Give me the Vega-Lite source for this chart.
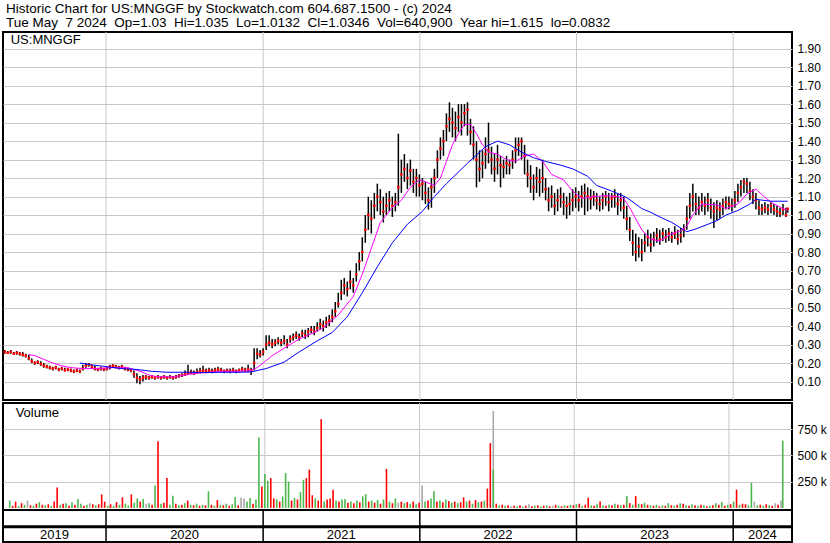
{
"$schema": "https://vega.github.io/schema/vega-lite/v6.json",
"padding": {"left": 0, "top": 2, "right": 0, "bottom": 0},
"background": "white",
"bounds": "flush",
"resolve": {"scale": {"color": "independent", "y": "independent"}},
"title": {"text": ["Historic Chart for US:MNGGF by Stockwatch.com 604.687.1500 - (c) 2024", "Tue May\u00a0\u00a07 2024\u00a0\u00a0Op=1.03\u00a0\u00a0Hi=1.035\u00a0\u00a0Lo=1.0132\u00a0\u00a0Cl=1.0346\u00a0\u00a0Vol=640,900\u00a0\u00a0Year hi=1.615\u00a0\u00a0lo=0.0832"], "anchor": "start", "frame": "group", "fontSize": 13.5, "fontWeight": "normal", "font": "Liberation Sans", "color": "black", "lineHeight": 13.5, "offset": 2, "dx": 3},
"config": {
 "view": {"stroke": "black", "strokeWidth": 2},
 "font": "Liberation Sans",
 "axis": {"labelFont": "Liberation Sans", "labelFontSize": 12, "labelColor": "black", "gridColor": "#c8c8c8", "gridOpacity": 1, "gridWidth": 1, "ticks": false, "domain": false, "labelPadding": 5, "labelOverlap": false, "tickCount": 40, "title": null}
},
"datasets": {
"yrs": [
{"y":"2019","s":"2019-01-01","m":"2019-09-03"},
{"y":"2020","s":"2020-01-01","m":"2020-07-02"},
{"y":"2021","s":"2021-01-01","m":"2021-07-02"},
{"y":"2022","s":"2022-01-01","m":"2022-07-02"},
{"y":"2023","s":"2023-01-01","m":"2023-07-02"},
{"y":"2024","s":"2024-01-01","m":"2024-03-09"}
],
"p": [
{"d":"2019-05-10","c":0.26,"h":0.27,"l":0.25},
{"d":"2019-05-17","c":0.255,"h":0.265,"l":0.25},
{"d":"2019-05-24","c":0.26,"h":0.27,"l":0.25},
{"d":"2019-05-31","c":0.25,"h":0.26,"l":0.245},
{"d":"2019-06-07","c":0.255,"h":0.265,"l":0.245},
{"d":"2019-06-14","c":0.25,"h":0.26,"l":0.24},
{"d":"2019-06-21","c":0.245,"h":0.26,"l":0.235},
{"d":"2019-06-28","c":0.24,"h":0.25,"l":0.23},
{"d":"2019-07-05","c":0.225,"h":0.245,"l":0.215},
{"d":"2019-07-12","c":0.21,"h":0.225,"l":0.2},
{"d":"2019-07-19","c":0.2,"h":0.21,"l":0.19},
{"d":"2019-07-26","c":0.205,"h":0.215,"l":0.195},
{"d":"2019-08-02","c":0.195,"h":0.21,"l":0.185},
{"d":"2019-08-09","c":0.185,"h":0.2,"l":0.175},
{"d":"2019-08-16","c":0.18,"h":0.19,"l":0.17},
{"d":"2019-08-23","c":0.175,"h":0.185,"l":0.165},
{"d":"2019-08-30","c":0.17,"h":0.18,"l":0.16},
{"d":"2019-09-06","c":0.175,"h":0.185,"l":0.165},
{"d":"2019-09-13","c":0.165,"h":0.175,"l":0.155},
{"d":"2019-09-20","c":0.17,"h":0.18,"l":0.16},
{"d":"2019-09-27","c":0.16,"h":0.175,"l":0.155},
{"d":"2019-10-04","c":0.165,"h":0.175,"l":0.155},
{"d":"2019-10-11","c":0.16,"h":0.17,"l":0.15},
{"d":"2019-10-18","c":0.155,"h":0.165,"l":0.145},
{"d":"2019-10-25","c":0.16,"h":0.17,"l":0.15},
{"d":"2019-11-01","c":0.155,"h":0.165,"l":0.145},
{"d":"2019-11-08","c":0.17,"h":0.19,"l":0.16},
{"d":"2019-11-15","c":0.185,"h":0.2,"l":0.175},
{"d":"2019-11-22","c":0.19,"h":0.2,"l":0.18},
{"d":"2019-11-29","c":0.18,"h":0.19,"l":0.17},
{"d":"2019-12-06","c":0.17,"h":0.185,"l":0.16},
{"d":"2019-12-13","c":0.165,"h":0.175,"l":0.155},
{"d":"2019-12-20","c":0.17,"h":0.18,"l":0.16},
{"d":"2019-12-27","c":0.165,"h":0.175,"l":0.155},
{"d":"2020-01-03","c":0.17,"h":0.18,"l":0.16},
{"d":"2020-01-10","c":0.18,"h":0.19,"l":0.165},
{"d":"2020-01-17","c":0.185,"h":0.195,"l":0.175},
{"d":"2020-01-24","c":0.18,"h":0.19,"l":0.17},
{"d":"2020-01-31","c":0.175,"h":0.185,"l":0.165},
{"d":"2020-02-07","c":0.18,"h":0.19,"l":0.17},
{"d":"2020-02-14","c":0.17,"h":0.18,"l":0.16},
{"d":"2020-02-21","c":0.165,"h":0.175,"l":0.155},
{"d":"2020-02-28","c":0.16,"h":0.17,"l":0.15},
{"d":"2020-03-06","c":0.14,"h":0.16,"l":0.12},
{"d":"2020-03-13","c":0.12,"h":0.145,"l":0.09},
{"d":"2020-03-20","c":0.11,"h":0.13,"l":0.085},
{"d":"2020-03-27","c":0.12,"h":0.135,"l":0.1},
{"d":"2020-04-03","c":0.125,"h":0.135,"l":0.11},
{"d":"2020-04-10","c":0.12,"h":0.13,"l":0.11},
{"d":"2020-04-17","c":0.125,"h":0.135,"l":0.115},
{"d":"2020-04-24","c":0.12,"h":0.13,"l":0.11},
{"d":"2020-05-01","c":0.125,"h":0.135,"l":0.115},
{"d":"2020-05-08","c":0.12,"h":0.13,"l":0.11},
{"d":"2020-05-15","c":0.125,"h":0.135,"l":0.115},
{"d":"2020-05-22","c":0.12,"h":0.13,"l":0.11},
{"d":"2020-05-29","c":0.125,"h":0.135,"l":0.115},
{"d":"2020-06-05","c":0.12,"h":0.13,"l":0.11},
{"d":"2020-06-12","c":0.125,"h":0.135,"l":0.115},
{"d":"2020-06-19","c":0.13,"h":0.14,"l":0.12},
{"d":"2020-06-26","c":0.135,"h":0.145,"l":0.125},
{"d":"2020-07-03","c":0.14,"h":0.16,"l":0.13},
{"d":"2020-07-10","c":0.145,"h":0.19,"l":0.135},
{"d":"2020-07-17","c":0.15,"h":0.165,"l":0.14},
{"d":"2020-07-24","c":0.145,"h":0.16,"l":0.135},
{"d":"2020-07-31","c":0.15,"h":0.17,"l":0.14},
{"d":"2020-08-07","c":0.155,"h":0.175,"l":0.145},
{"d":"2020-08-14","c":0.16,"h":0.185,"l":0.15},
{"d":"2020-08-21","c":0.155,"h":0.17,"l":0.145},
{"d":"2020-08-28","c":0.16,"h":0.175,"l":0.15},
{"d":"2020-09-04","c":0.155,"h":0.17,"l":0.145},
{"d":"2020-09-11","c":0.16,"h":0.175,"l":0.15},
{"d":"2020-09-18","c":0.165,"h":0.18,"l":0.155},
{"d":"2020-09-25","c":0.16,"h":0.175,"l":0.15},
{"d":"2020-10-02","c":0.155,"h":0.165,"l":0.145},
{"d":"2020-10-09","c":0.16,"h":0.17,"l":0.15},
{"d":"2020-10-16","c":0.155,"h":0.17,"l":0.145},
{"d":"2020-10-23","c":0.16,"h":0.175,"l":0.15},
{"d":"2020-10-30","c":0.155,"h":0.165,"l":0.145},
{"d":"2020-11-06","c":0.16,"h":0.17,"l":0.15},
{"d":"2020-11-13","c":0.165,"h":0.18,"l":0.155},
{"d":"2020-11-20","c":0.16,"h":0.175,"l":0.15},
{"d":"2020-11-27","c":0.165,"h":0.19,"l":0.15},
{"d":"2020-12-04","c":0.16,"h":0.175,"l":0.135},
{"d":"2020-12-11","c":0.2,"h":0.28,"l":0.16},
{"d":"2020-12-18","c":0.25,"h":0.28,"l":0.22},
{"d":"2020-12-25","c":0.245,"h":0.27,"l":0.23},
{"d":"2021-01-01","c":0.26,"h":0.28,"l":0.24},
{"d":"2021-01-08","c":0.3,"h":0.35,"l":0.27},
{"d":"2021-01-15","c":0.31,"h":0.35,"l":0.29},
{"d":"2021-01-22","c":0.3,"h":0.33,"l":0.28},
{"d":"2021-01-29","c":0.31,"h":0.33,"l":0.29},
{"d":"2021-02-05","c":0.32,"h":0.34,"l":0.3},
{"d":"2021-02-12","c":0.31,"h":0.33,"l":0.29},
{"d":"2021-02-19","c":0.32,"h":0.35,"l":0.3},
{"d":"2021-02-26","c":0.3,"h":0.33,"l":0.28},
{"d":"2021-03-05","c":0.33,"h":0.35,"l":0.31},
{"d":"2021-03-12","c":0.34,"h":0.36,"l":0.32},
{"d":"2021-03-19","c":0.35,"h":0.37,"l":0.33},
{"d":"2021-03-26","c":0.34,"h":0.36,"l":0.32},
{"d":"2021-04-02","c":0.36,"h":0.38,"l":0.34},
{"d":"2021-04-09","c":0.35,"h":0.38,"l":0.33},
{"d":"2021-04-16","c":0.37,"h":0.39,"l":0.34},
{"d":"2021-04-23","c":0.38,"h":0.4,"l":0.36},
{"d":"2021-04-30","c":0.37,"h":0.4,"l":0.35},
{"d":"2021-05-07","c":0.39,"h":0.42,"l":0.37},
{"d":"2021-05-14","c":0.41,"h":0.44,"l":0.38},
{"d":"2021-05-21","c":0.4,"h":0.43,"l":0.37},
{"d":"2021-05-28","c":0.42,"h":0.45,"l":0.39},
{"d":"2021-06-04","c":0.43,"h":0.46,"l":0.4},
{"d":"2021-06-11","c":0.45,"h":0.49,"l":0.42},
{"d":"2021-06-18","c":0.48,"h":0.53,"l":0.45},
{"d":"2021-06-25","c":0.52,"h":0.58,"l":0.5},
{"d":"2021-07-02","c":0.58,"h":0.65,"l":0.54},
{"d":"2021-07-09","c":0.62,"h":0.66,"l":0.57},
{"d":"2021-07-16","c":0.6,"h":0.64,"l":0.56},
{"d":"2021-07-23","c":0.64,"h":0.7,"l":0.6},
{"d":"2021-07-30","c":0.62,"h":0.66,"l":0.58},
{"d":"2021-08-06","c":0.68,"h":0.74,"l":0.64},
{"d":"2021-08-13","c":0.75,"h":0.8,"l":0.7},
{"d":"2021-08-20","c":0.8,"h":0.88,"l":0.75},
{"d":"2021-08-27","c":0.92,"h":1.0,"l":0.85},
{"d":"2021-09-03","c":1.0,"h":1.1,"l":0.92},
{"d":"2021-09-10","c":0.98,"h":1.08,"l":0.9},
{"d":"2021-09-17","c":1.05,"h":1.12,"l":0.98},
{"d":"2021-09-24","c":1.1,"h":1.17,"l":1.02},
{"d":"2021-10-01","c":1.07,"h":1.14,"l":1.0},
{"d":"2021-10-08","c":1.02,"h":1.1,"l":0.96},
{"d":"2021-10-15","c":1.05,"h":1.12,"l":1.0},
{"d":"2021-10-22","c":1.08,"h":1.13,"l":1.02},
{"d":"2021-10-29","c":1.05,"h":1.1,"l":0.99},
{"d":"2021-11-05","c":1.07,"h":1.12,"l":1.02},
{"d":"2021-11-12","c":1.15,"h":1.44,"l":1.05},
{"d":"2021-11-19","c":1.22,"h":1.3,"l":1.12},
{"d":"2021-11-26","c":1.25,"h":1.33,"l":1.18},
{"d":"2021-12-03","c":1.2,"h":1.28,"l":1.14},
{"d":"2021-12-10","c":1.24,"h":1.3,"l":1.16},
{"d":"2021-12-17","c":1.18,"h":1.25,"l":1.12},
{"d":"2021-12-24","c":1.2,"h":1.25,"l":1.1},
{"d":"2021-12-31","c":1.16,"h":1.22,"l":1.1},
{"d":"2022-01-07","c":1.17,"h":1.2,"l":1.08},
{"d":"2022-01-14","c":1.12,"h":1.18,"l":1.06},
{"d":"2022-01-21","c":1.08,"h":1.15,"l":1.03},
{"d":"2022-01-28","c":1.15,"h":1.2,"l":1.04},
{"d":"2022-02-04","c":1.2,"h":1.25,"l":1.12},
{"d":"2022-02-11","c":1.3,"h":1.35,"l":1.2},
{"d":"2022-02-18","c":1.36,"h":1.42,"l":1.3},
{"d":"2022-02-25","c":1.4,"h":1.46,"l":1.32},
{"d":"2022-03-04","c":1.48,"h":1.55,"l":1.4},
{"d":"2022-03-11","c":1.52,"h":1.61,"l":1.45},
{"d":"2022-03-18","c":1.5,"h":1.58,"l":1.42},
{"d":"2022-03-25","c":1.47,"h":1.56,"l":1.4},
{"d":"2022-04-01","c":1.53,"h":1.6,"l":1.45},
{"d":"2022-04-08","c":1.5,"h":1.6,"l":1.43},
{"d":"2022-04-15","c":1.55,"h":1.6,"l":1.48},
{"d":"2022-04-22","c":1.57,"h":1.61,"l":1.43},
{"d":"2022-04-29","c":1.45,"h":1.52,"l":1.38},
{"d":"2022-05-06","c":1.38,"h":1.48,"l":1.3},
{"d":"2022-05-13","c":1.3,"h":1.4,"l":1.15},
{"d":"2022-05-20","c":1.25,"h":1.35,"l":1.18},
{"d":"2022-05-27","c":1.28,"h":1.35,"l":1.2},
{"d":"2022-06-03","c":1.33,"h":1.42,"l":1.25},
{"d":"2022-06-10","c":1.35,"h":1.5,"l":1.28},
{"d":"2022-06-17","c":1.3,"h":1.37,"l":1.22},
{"d":"2022-06-24","c":1.25,"h":1.33,"l":1.18},
{"d":"2022-07-01","c":1.3,"h":1.38,"l":1.22},
{"d":"2022-07-08","c":1.27,"h":1.32,"l":1.15},
{"d":"2022-07-15","c":1.26,"h":1.3,"l":1.2},
{"d":"2022-07-22","c":1.28,"h":1.32,"l":1.22},
{"d":"2022-07-29","c":1.27,"h":1.3,"l":1.22},
{"d":"2022-08-05","c":1.3,"h":1.35,"l":1.25},
{"d":"2022-08-12","c":1.35,"h":1.42,"l":1.28},
{"d":"2022-08-19","c":1.38,"h":1.42,"l":1.32},
{"d":"2022-08-26","c":1.4,"h":1.42,"l":1.3},
{"d":"2022-09-02","c":1.32,"h":1.38,"l":1.22},
{"d":"2022-09-09","c":1.22,"h":1.3,"l":1.15},
{"d":"2022-09-16","c":1.2,"h":1.27,"l":1.12},
{"d":"2022-09-23","c":1.15,"h":1.22,"l":1.08},
{"d":"2022-09-30","c":1.2,"h":1.26,"l":1.12},
{"d":"2022-10-07","c":1.18,"h":1.25,"l":1.1},
{"d":"2022-10-14","c":1.2,"h":1.3,"l":1.12},
{"d":"2022-10-21","c":1.14,"h":1.2,"l":1.08},
{"d":"2022-10-28","c":1.08,"h":1.15,"l":1.02},
{"d":"2022-11-04","c":1.1,"h":1.16,"l":1.04},
{"d":"2022-11-11","c":1.05,"h":1.12,"l":1.0},
{"d":"2022-11-18","c":1.08,"h":1.14,"l":1.02},
{"d":"2022-11-25","c":1.1,"h":1.15,"l":1.04},
{"d":"2022-12-02","c":1.07,"h":1.12,"l":1.0},
{"d":"2022-12-09","c":1.05,"h":1.1,"l":0.98},
{"d":"2022-12-16","c":1.06,"h":1.12,"l":1.0},
{"d":"2022-12-23","c":1.08,"h":1.14,"l":1.02},
{"d":"2022-12-30","c":1.1,"h":1.15,"l":1.04},
{"d":"2023-01-06","c":1.08,"h":1.13,"l":1.02},
{"d":"2023-01-13","c":1.1,"h":1.16,"l":1.04},
{"d":"2023-01-20","c":1.12,"h":1.17,"l":1.0},
{"d":"2023-01-27","c":1.1,"h":1.15,"l":1.02},
{"d":"2023-02-03","c":1.09,"h":1.14,"l":1.03},
{"d":"2023-02-10","c":1.1,"h":1.13,"l":1.05},
{"d":"2023-02-17","c":1.08,"h":1.12,"l":1.03},
{"d":"2023-02-24","c":1.06,"h":1.1,"l":1.02},
{"d":"2023-03-03","c":1.08,"h":1.12,"l":1.03},
{"d":"2023-03-10","c":1.1,"h":1.13,"l":1.05},
{"d":"2023-03-17","c":1.07,"h":1.12,"l":1.02},
{"d":"2023-03-24","c":1.09,"h":1.12,"l":1.04},
{"d":"2023-03-31","c":1.1,"h":1.14,"l":1.04},
{"d":"2023-04-07","c":1.06,"h":1.12,"l":1.0},
{"d":"2023-04-14","c":1.08,"h":1.12,"l":1.02},
{"d":"2023-04-21","c":1.04,"h":1.1,"l":0.98},
{"d":"2023-04-28","c":0.98,"h":1.05,"l":0.92},
{"d":"2023-05-05","c":0.92,"h":0.99,"l":0.86},
{"d":"2023-05-12","c":0.85,"h":0.92,"l":0.78},
{"d":"2023-05-19","c":0.8,"h":0.9,"l":0.75},
{"d":"2023-05-26","c":0.83,"h":0.88,"l":0.77},
{"d":"2023-06-02","c":0.8,"h":0.87,"l":0.75},
{"d":"2023-06-09","c":0.85,"h":0.9,"l":0.8},
{"d":"2023-06-16","c":0.88,"h":0.92,"l":0.83},
{"d":"2023-06-23","c":0.84,"h":0.9,"l":0.8},
{"d":"2023-06-30","c":0.87,"h":0.91,"l":0.83},
{"d":"2023-07-07","c":0.89,"h":0.93,"l":0.85},
{"d":"2023-07-14","c":0.87,"h":0.92,"l":0.84},
{"d":"2023-07-21","c":0.9,"h":0.93,"l":0.86},
{"d":"2023-07-28","c":0.88,"h":0.92,"l":0.85},
{"d":"2023-08-04","c":0.9,"h":0.93,"l":0.86},
{"d":"2023-08-11","c":0.88,"h":0.91,"l":0.85},
{"d":"2023-08-18","c":0.9,"h":0.94,"l":0.87},
{"d":"2023-08-25","c":0.87,"h":0.92,"l":0.84},
{"d":"2023-09-01","c":0.89,"h":0.93,"l":0.85},
{"d":"2023-09-08","c":0.92,"h":0.95,"l":0.88},
{"d":"2023-09-15","c":0.98,"h":1.05,"l":0.92},
{"d":"2023-09-22","c":1.05,"h":1.12,"l":0.98},
{"d":"2023-09-29","c":1.1,"h":1.17,"l":1.02},
{"d":"2023-10-06","c":1.06,"h":1.12,"l":1.0},
{"d":"2023-10-13","c":1.04,"h":1.1,"l":1.0},
{"d":"2023-10-20","c":1.07,"h":1.12,"l":1.02},
{"d":"2023-10-27","c":1.05,"h":1.1,"l":1.0},
{"d":"2023-11-03","c":1.08,"h":1.12,"l":1.02},
{"d":"2023-11-10","c":1.04,"h":1.09,"l":0.98},
{"d":"2023-11-17","c":1.02,"h":1.07,"l":0.93},
{"d":"2023-11-24","c":1.04,"h":1.08,"l":0.97},
{"d":"2023-12-01","c":1.03,"h":1.07,"l":0.98},
{"d":"2023-12-08","c":1.05,"h":1.09,"l":1.0},
{"d":"2023-12-15","c":1.07,"h":1.1,"l":1.03},
{"d":"2023-12-22","c":1.06,"h":1.1,"l":1.03},
{"d":"2023-12-29","c":1.05,"h":1.09,"l":1.02},
{"d":"2024-01-05","c":1.08,"h":1.13,"l":1.04},
{"d":"2024-01-12","c":1.12,"h":1.17,"l":1.07},
{"d":"2024-01-19","c":1.15,"h":1.19,"l":1.1},
{"d":"2024-01-26","c":1.18,"h":1.2,"l":1.12},
{"d":"2024-02-02","c":1.17,"h":1.2,"l":1.12},
{"d":"2024-02-09","c":1.13,"h":1.18,"l":1.08},
{"d":"2024-02-16","c":1.1,"h":1.14,"l":1.06},
{"d":"2024-02-23","c":1.08,"h":1.12,"l":1.03},
{"d":"2024-03-01","c":1.04,"h":1.08,"l":1.0},
{"d":"2024-03-08","c":1.03,"h":1.06,"l":1.0},
{"d":"2024-03-15","c":1.04,"h":1.07,"l":1.01},
{"d":"2024-03-22","c":1.03,"h":1.06,"l":1.0},
{"d":"2024-03-29","c":1.05,"h":1.07,"l":1.01},
{"d":"2024-04-05","c":1.03,"h":1.06,"l":1.0},
{"d":"2024-04-12","c":1.02,"h":1.05,"l":0.99},
{"d":"2024-04-19","c":1.01,"h":1.04,"l":0.99},
{"d":"2024-04-26","c":1.03,"h":1.06,"l":1.0},
{"d":"2024-05-03","c":1.0,"h":1.04,"l":0.99},
{"d":"2024-05-07","c":1.0346,"h":1.035,"l":1.0132}
],
"ma": [
{"d":"2019-07-05","v":0.245,"s":"m"},
{"d":"2019-07-19","v":0.24,"s":"m"},
{"d":"2019-08-09","v":0.22,"s":"m"},
{"d":"2019-08-30","v":0.2,"s":"m"},
{"d":"2019-09-20","v":0.185,"s":"m"},
{"d":"2019-10-11","v":0.175,"s":"m"},
{"d":"2019-11-08","v":0.17,"s":"m"},
{"d":"2019-12-13","v":0.17,"s":"m"},
{"d":"2020-01-17","v":0.175,"s":"m"},
{"d":"2020-02-21","v":0.175,"s":"m"},
{"d":"2020-03-13","v":0.16,"s":"m"},
{"d":"2020-03-27","v":0.15,"s":"m"},
{"d":"2020-04-10","v":0.135,"s":"m"},
{"d":"2020-05-01","v":0.125,"s":"m"},
{"d":"2020-06-05","v":0.125,"s":"m"},
{"d":"2020-07-03","v":0.135,"s":"m"},
{"d":"2020-07-31","v":0.145,"s":"m"},
{"d":"2020-08-28","v":0.15,"s":"m"},
{"d":"2020-10-02","v":0.155,"s":"m"},
{"d":"2020-11-06","v":0.155,"s":"m"},
{"d":"2020-12-04","v":0.16,"s":"m"},
{"d":"2020-12-18","v":0.175,"s":"m"},
{"d":"2021-01-01","v":0.2,"s":"m"},
{"d":"2021-01-22","v":0.24,"s":"m"},
{"d":"2021-02-19","v":0.28,"s":"m"},
{"d":"2021-03-26","v":0.33,"s":"m"},
{"d":"2021-04-30","v":0.365,"s":"m"},
{"d":"2021-05-21","v":0.39,"s":"m"},
{"d":"2021-06-25","v":0.46,"s":"m"},
{"d":"2021-07-30","v":0.56,"s":"m"},
{"d":"2021-08-20","v":0.68,"s":"m"},
{"d":"2021-09-10","v":0.82,"s":"m"},
{"d":"2021-10-01","v":0.96,"s":"m"},
{"d":"2021-10-29","v":1.04,"s":"m"},
{"d":"2021-11-19","v":1.08,"s":"m"},
{"d":"2021-12-10","v":1.15,"s":"m"},
{"d":"2021-12-31","v":1.19,"s":"m"},
{"d":"2022-01-14","v":1.18,"s":"m"},
{"d":"2022-02-04","v":1.16,"s":"m"},
{"d":"2022-02-18","v":1.2,"s":"m"},
{"d":"2022-03-04","v":1.29,"s":"m"},
{"d":"2022-03-18","v":1.38,"s":"m"},
{"d":"2022-04-01","v":1.44,"s":"m"},
{"d":"2022-04-15","v":1.49,"s":"m"},
{"d":"2022-04-29","v":1.49,"s":"m"},
{"d":"2022-05-13","v":1.44,"s":"m"},
{"d":"2022-05-27","v":1.38,"s":"m"},
{"d":"2022-06-10","v":1.34,"s":"m"},
{"d":"2022-07-01","v":1.33,"s":"m"},
{"d":"2022-07-22","v":1.3,"s":"m"},
{"d":"2022-08-12","v":1.29,"s":"m"},
{"d":"2022-09-02","v":1.32,"s":"m"},
{"d":"2022-09-23","v":1.33,"s":"m"},
{"d":"2022-10-14","v":1.29,"s":"m"},
{"d":"2022-11-04","v":1.22,"s":"m"},
{"d":"2022-12-02","v":1.19,"s":"m"},
{"d":"2022-12-23","v":1.13,"s":"m"},
{"d":"2023-01-13","v":1.09,"s":"m"},
{"d":"2023-02-10","v":1.1,"s":"m"},
{"d":"2023-03-10","v":1.105,"s":"m"},
{"d":"2023-04-07","v":1.1,"s":"m"},
{"d":"2023-04-21","v":1.09,"s":"m"},
{"d":"2023-05-05","v":1.04,"s":"m"},
{"d":"2023-05-19","v":0.98,"s":"m"},
{"d":"2023-06-02","v":0.92,"s":"m"},
{"d":"2023-06-23","v":0.87,"s":"m"},
{"d":"2023-07-14","v":0.86,"s":"m"},
{"d":"2023-08-11","v":0.9,"s":"m"},
{"d":"2023-09-01","v":0.915,"s":"m"},
{"d":"2023-09-15","v":0.94,"s":"m"},
{"d":"2023-09-29","v":1.0,"s":"m"},
{"d":"2023-10-20","v":1.06,"s":"m"},
{"d":"2023-11-24","v":1.055,"s":"m"},
{"d":"2023-12-15","v":1.035,"s":"m"},
{"d":"2024-01-12","v":1.06,"s":"m"},
{"d":"2024-02-02","v":1.115,"s":"m"},
{"d":"2024-02-23","v":1.14,"s":"m"},
{"d":"2024-03-15","v":1.095,"s":"m"},
{"d":"2024-04-05","v":1.06,"s":"m"},
{"d":"2024-04-26","v":1.035,"s":"m"},
{"d":"2024-05-07","v":1.025,"s":"m"},
{"d":"2019-11-01","v":0.2,"s":"b"},
{"d":"2019-11-29","v":0.19,"s":"b"},
{"d":"2020-01-03","v":0.18,"s":"b"},
{"d":"2020-02-07","v":0.17,"s":"b"},
{"d":"2020-03-13","v":0.165,"s":"b"},
{"d":"2020-04-17","v":0.155,"s":"b"},
{"d":"2020-05-22","v":0.15,"s":"b"},
{"d":"2020-07-03","v":0.15,"s":"b"},
{"d":"2020-08-14","v":0.148,"s":"b"},
{"d":"2020-09-25","v":0.15,"s":"b"},
{"d":"2020-11-06","v":0.15,"s":"b"},
{"d":"2020-12-04","v":0.152,"s":"b"},
{"d":"2021-01-08","v":0.17,"s":"b"},
{"d":"2021-02-19","v":0.205,"s":"b"},
{"d":"2021-03-26","v":0.26,"s":"b"},
{"d":"2021-05-07","v":0.32,"s":"b"},
{"d":"2021-06-11","v":0.365,"s":"b"},
{"d":"2021-07-16","v":0.45,"s":"b"},
{"d":"2021-08-20","v":0.58,"s":"b"},
{"d":"2021-09-24","v":0.72,"s":"b"},
{"d":"2021-10-29","v":0.85,"s":"b"},
{"d":"2021-12-03","v":0.95,"s":"b"},
{"d":"2022-01-07","v":1.02,"s":"b"},
{"d":"2022-02-04","v":1.1,"s":"b"},
{"d":"2022-03-04","v":1.17,"s":"b"},
{"d":"2022-04-22","v":1.28,"s":"b"},
{"d":"2022-06-03","v":1.37,"s":"b"},
{"d":"2022-07-01","v":1.4,"s":"b"},
{"d":"2022-07-29","v":1.38,"s":"b"},
{"d":"2022-08-26","v":1.34,"s":"b"},
{"d":"2022-09-23","v":1.31,"s":"b"},
{"d":"2022-10-21","v":1.29,"s":"b"},
{"d":"2022-11-25","v":1.27,"s":"b"},
{"d":"2022-12-23","v":1.25,"s":"b"},
{"d":"2023-01-27","v":1.21,"s":"b"},
{"d":"2023-02-17","v":1.16,"s":"b"},
{"d":"2023-03-24","v":1.13,"s":"b"},
{"d":"2023-04-28","v":1.095,"s":"b"},
{"d":"2023-06-02","v":1.035,"s":"b"},
{"d":"2023-06-23","v":1.015,"s":"b"},
{"d":"2023-07-14","v":0.99,"s":"b"},
{"d":"2023-08-11","v":0.96,"s":"b"},
{"d":"2023-09-01","v":0.93,"s":"b"},
{"d":"2023-09-15","v":0.91,"s":"b"},
{"d":"2023-10-06","v":0.925,"s":"b"},
{"d":"2023-11-03","v":0.95,"s":"b"},
{"d":"2023-11-24","v":0.97,"s":"b"},
{"d":"2023-12-15","v":1.0,"s":"b"},
{"d":"2024-01-12","v":1.025,"s":"b"},
{"d":"2024-02-09","v":1.06,"s":"b"},
{"d":"2024-02-23","v":1.085,"s":"b"},
{"d":"2024-03-29","v":1.075,"s":"b"},
{"d":"2024-05-07","v":1.075,"s":"b"}
],
"vol": [
{"d":"2019-05-10","v":70,"k":"g"},{"d":"2019-05-17","v":20,"k":"r"},{"d":"2019-05-24","v":60,"k":"r"},{"d":"2019-05-31","v":15,"k":"g"},
{"d":"2019-06-07","v":45,"k":"r"},{"d":"2019-06-14","v":30,"k":"g"},{"d":"2019-06-21","v":70,"k":"n"},{"d":"2019-06-28","v":25,"k":"r"},
{"d":"2019-07-05","v":20,"k":"g"},{"d":"2019-07-12","v":40,"k":"r"},{"d":"2019-07-19","v":55,"k":"g"},{"d":"2019-07-26","v":30,"k":"r"},
{"d":"2019-08-02","v":25,"k":"g"},{"d":"2019-08-09","v":35,"k":"r"},{"d":"2019-08-16","v":20,"k":"g"},{"d":"2019-08-23","v":60,"k":"r"},{"d":"2019-08-30","v":195,"k":"r"},
{"d":"2019-09-06","v":30,"k":"g"},{"d":"2019-09-13","v":40,"k":"r"},{"d":"2019-09-20","v":45,"k":"g"},{"d":"2019-09-27","v":20,"k":"r"},
{"d":"2019-10-04","v":55,"k":"g"},{"d":"2019-10-11","v":30,"k":"r"},{"d":"2019-10-18","v":85,"k":"g"},{"d":"2019-10-25","v":40,"k":"g"},
{"d":"2019-11-01","v":20,"k":"r"},{"d":"2019-11-08","v":30,"k":"g"},{"d":"2019-11-15","v":45,"k":"n"},{"d":"2019-11-22","v":35,"k":"r"},{"d":"2019-11-29","v":25,"k":"g"},
{"d":"2019-12-06","v":35,"k":"r"},{"d":"2019-12-13","v":129,"k":"r"},{"d":"2019-12-20","v":60,"k":"r"},{"d":"2019-12-27","v":20,"k":"g"},
{"d":"2020-01-03","v":35,"k":"r"},{"d":"2020-01-10","v":20,"k":"g"},{"d":"2020-01-17","v":55,"k":"r"},{"d":"2020-01-24","v":30,"k":"g"},{"d":"2020-01-31","v":100,"k":"r"},
{"d":"2020-02-07","v":40,"k":"g"},{"d":"2020-02-14","v":25,"k":"g"},{"d":"2020-02-21","v":129,"k":"r"},{"d":"2020-02-28","v":50,"k":"g"},
{"d":"2020-03-06","v":90,"k":"g"},{"d":"2020-03-13","v":60,"k":"r"},{"d":"2020-03-20","v":85,"k":"g"},{"d":"2020-03-27","v":40,"k":"n"},
{"d":"2020-04-03","v":45,"k":"g"},{"d":"2020-04-10","v":30,"k":"r"},{"d":"2020-04-17","v":216,"k":"g"},{"d":"2020-04-24","v":636,"k":"r"},
{"d":"2020-05-01","v":40,"k":"g"},{"d":"2020-05-08","v":50,"k":"r"},{"d":"2020-05-15","v":284,"k":"r"},{"d":"2020-05-22","v":30,"k":"g"},{"d":"2020-05-29","v":116,"k":"g"},
{"d":"2020-06-05","v":40,"k":"r"},{"d":"2020-06-12","v":25,"k":"g"},{"d":"2020-06-19","v":30,"k":"r"},{"d":"2020-06-26","v":45,"k":"g"},
{"d":"2020-07-03","v":70,"k":"r"},{"d":"2020-07-10","v":30,"k":"g"},{"d":"2020-07-17","v":25,"k":"r"},{"d":"2020-07-24","v":40,"k":"g"},{"d":"2020-07-31","v":20,"k":"r"},
{"d":"2020-08-07","v":30,"k":"g"},{"d":"2020-08-14","v":25,"k":"r"},{"d":"2020-08-21","v":158,"k":"g"},{"d":"2020-08-28","v":30,"k":"r"},
{"d":"2020-09-04","v":20,"k":"g"},{"d":"2020-09-11","v":74,"k":"r"},{"d":"2020-09-18","v":30,"k":"g"},{"d":"2020-09-25","v":25,"k":"r"},
{"d":"2020-10-02","v":40,"k":"g"},{"d":"2020-10-09","v":20,"k":"r"},{"d":"2020-10-16","v":35,"k":"g"},{"d":"2020-10-23","v":103,"k":"g"},{"d":"2020-10-30","v":25,"k":"r"},
{"d":"2020-11-06","v":97,"k":"n"},{"d":"2020-11-13","v":90,"k":"n"},{"d":"2020-11-20","v":60,"k":"g"},{"d":"2020-11-27","v":95,"k":"g"},
{"d":"2020-12-04","v":40,"k":"r"},{"d":"2020-12-11","v":80,"k":"g"},{"d":"2020-12-18","v":671,"k":"g"},{"d":"2020-12-25","v":203,"k":"r"},
{"d":"2021-01-01","v":323,"k":"g"},{"d":"2021-01-08","v":258,"k":"g"},{"d":"2021-01-15","v":284,"k":"r"},{"d":"2021-01-22","v":90,"k":"r"},{"d":"2021-01-29","v":80,"k":"g"},
{"d":"2021-02-05","v":60,"k":"r"},{"d":"2021-02-12","v":110,"k":"g"},{"d":"2021-02-19","v":333,"k":"g"},{"d":"2021-02-26","v":252,"k":"g"},
{"d":"2021-03-05","v":70,"k":"r"},{"d":"2021-03-12","v":95,"k":"g"},{"d":"2021-03-19","v":80,"k":"r"},{"d":"2021-03-26","v":150,"k":"g"},
{"d":"2021-04-02","v":268,"k":"g"},{"d":"2021-04-09","v":284,"k":"r"},{"d":"2021-04-16","v":365,"k":"r"},{"d":"2021-04-23","v":120,"k":"r"},{"d":"2021-04-30","v":90,"k":"g"},
{"d":"2021-05-07","v":70,"k":"r"},{"d":"2021-05-14","v":846,"k":"r"},{"d":"2021-05-21","v":60,"k":"g"},{"d":"2021-05-28","v":80,"k":"r"},
{"d":"2021-06-04","v":90,"k":"r"},{"d":"2021-06-11","v":174,"k":"r"},{"d":"2021-06-18","v":70,"k":"g"},{"d":"2021-06-25","v":60,"k":"r"},
{"d":"2021-07-02","v":80,"k":"g"},{"d":"2021-07-09","v":85,"k":"g"},{"d":"2021-07-16","v":50,"k":"r"},{"d":"2021-07-23","v":60,"k":"g"},{"d":"2021-07-30","v":45,"k":"r"},
{"d":"2021-08-06","v":70,"k":"g"},{"d":"2021-08-13","v":55,"k":"r"},{"d":"2021-08-20","v":110,"k":"g"},{"d":"2021-08-27","v":130,"k":"g"},
{"d":"2021-09-03","v":60,"k":"r"},{"d":"2021-09-10","v":70,"k":"g"},{"d":"2021-09-17","v":50,"k":"r"},{"d":"2021-09-24","v":75,"k":"g"},
{"d":"2021-10-01","v":40,"k":"r"},{"d":"2021-10-08","v":80,"k":"g"},{"d":"2021-10-15","v":371,"k":"r"},{"d":"2021-10-22","v":60,"k":"g"},{"d":"2021-10-29","v":45,"k":"r"},
{"d":"2021-11-05","v":90,"k":"g"},{"d":"2021-11-12","v":50,"k":"n"},{"d":"2021-11-19","v":60,"k":"r"},{"d":"2021-11-26","v":45,"k":"g"},
{"d":"2021-12-03","v":55,"k":"r"},{"d":"2021-12-10","v":40,"k":"g"},{"d":"2021-12-17","v":60,"k":"r"},{"d":"2021-12-24","v":35,"k":"g"},{"d":"2021-12-31","v":50,"k":"r"},
{"d":"2022-01-07","v":216,"k":"n"},{"d":"2022-01-14","v":60,"k":"g"},{"d":"2022-01-21","v":70,"k":"r"},{"d":"2022-01-28","v":90,"k":"g"},
{"d":"2022-02-04","v":158,"k":"g"},{"d":"2022-02-11","v":60,"k":"r"},{"d":"2022-02-18","v":70,"k":"g"},{"d":"2022-02-25","v":55,"k":"r"},
{"d":"2022-03-04","v":80,"k":"g"},{"d":"2022-03-11","v":65,"k":"r"},{"d":"2022-03-18","v":50,"k":"g"},{"d":"2022-03-25","v":60,"k":"r"},
{"d":"2022-04-01","v":45,"k":"g"},{"d":"2022-04-08","v":55,"k":"r"},{"d":"2022-04-15","v":100,"k":"r"},{"d":"2022-04-22","v":60,"k":"g"},{"d":"2022-04-29","v":70,"k":"r"},
{"d":"2022-05-06","v":40,"k":"g"},{"d":"2022-05-13","v":75,"k":"r"},{"d":"2022-05-20","v":55,"k":"g"},{"d":"2022-05-27","v":60,"k":"r"},
{"d":"2022-06-03","v":70,"k":"g"},{"d":"2022-06-10","v":184,"k":"r"},{"d":"2022-06-17","v":617,"k":"r"},{"d":"2022-06-24","v":924,"k":"n"},{"d":"2022-06-24","v":365,"k":"g"},
{"d":"2022-07-01","v":40,"k":"r"},{"d":"2022-07-08","v":25,"k":"g"},{"d":"2022-07-15","v":30,"k":"r"},{"d":"2022-07-22","v":20,"k":"g"},{"d":"2022-07-29","v":25,"k":"r"},
{"d":"2022-08-05","v":15,"k":"n"},{"d":"2022-08-12","v":20,"k":"r"},{"d":"2022-08-19","v":15,"k":"g"},{"d":"2022-08-26","v":25,"k":"r"},
{"d":"2022-09-02","v":10,"k":"g"},{"d":"2022-09-09","v":20,"k":"r"},{"d":"2022-09-16","v":35,"k":"n"},{"d":"2022-09-23","v":15,"k":"r"},{"d":"2022-09-30","v":20,"k":"g"},
{"d":"2022-10-07","v":25,"k":"r"},{"d":"2022-10-14","v":15,"k":"g"},{"d":"2022-10-21","v":20,"k":"r"},{"d":"2022-10-28","v":25,"k":"g"},
{"d":"2022-11-04","v":15,"k":"r"},{"d":"2022-11-11","v":20,"k":"n"},{"d":"2022-11-18","v":30,"k":"r"},{"d":"2022-11-25","v":20,"k":"g"},
{"d":"2022-12-02","v":15,"k":"r"},{"d":"2022-12-09","v":25,"k":"g"},{"d":"2022-12-16","v":20,"k":"r"},{"d":"2022-12-23","v":30,"k":"g"},{"d":"2022-12-30","v":25,"k":"r"},
{"d":"2023-01-06","v":35,"k":"g"},{"d":"2023-01-13","v":40,"k":"r"},{"d":"2023-01-20","v":20,"k":"g"},{"d":"2023-01-27","v":30,"k":"r"},
{"d":"2023-02-03","v":97,"k":"r"},{"d":"2023-02-10","v":25,"k":"g"},{"d":"2023-02-17","v":20,"k":"r"},{"d":"2023-02-24","v":35,"k":"g"},
{"d":"2023-03-03","v":60,"k":"r"},{"d":"2023-03-10","v":25,"k":"g"},{"d":"2023-03-17","v":20,"k":"r"},{"d":"2023-03-24","v":30,"k":"g"},{"d":"2023-03-31","v":25,"k":"r"},
{"d":"2023-04-07","v":40,"k":"g"},{"d":"2023-04-14","v":30,"k":"r"},{"d":"2023-04-21","v":25,"k":"g"},{"d":"2023-04-28","v":30,"k":"r"},
{"d":"2023-05-05","v":113,"k":"g"},{"d":"2023-05-12","v":45,"k":"r"},{"d":"2023-05-19","v":30,"k":"g"},{"d":"2023-05-26","v":113,"k":"r"},
{"d":"2023-06-02","v":40,"k":"g"},{"d":"2023-06-09","v":35,"k":"r"},{"d":"2023-06-16","v":50,"k":"g"},{"d":"2023-06-23","v":30,"k":"r"},{"d":"2023-06-30","v":25,"k":"g"},
{"d":"2023-07-07","v":20,"k":"r"},{"d":"2023-07-14","v":30,"k":"g"},{"d":"2023-07-21","v":15,"k":"r"},{"d":"2023-07-28","v":25,"k":"g"},
{"d":"2023-08-04","v":20,"k":"r"},{"d":"2023-08-11","v":45,"k":"g"},{"d":"2023-08-18","v":25,"k":"r"},{"d":"2023-08-25","v":20,"k":"g"},
{"d":"2023-09-01","v":30,"k":"r"},{"d":"2023-09-08","v":45,"k":"g"},{"d":"2023-09-15","v":40,"k":"r"},{"d":"2023-09-22","v":25,"k":"g"},{"d":"2023-09-29","v":20,"k":"r"},
{"d":"2023-10-06","v":35,"k":"g"},{"d":"2023-10-13","v":25,"k":"r"},{"d":"2023-10-20","v":20,"k":"g"},{"d":"2023-10-27","v":30,"k":"r"},
{"d":"2023-11-03","v":25,"k":"g"},{"d":"2023-11-10","v":15,"k":"r"},{"d":"2023-11-17","v":20,"k":"g"},{"d":"2023-11-24","v":25,"k":"r"},
{"d":"2023-12-01","v":45,"k":"g"},{"d":"2023-12-08","v":30,"k":"r"},{"d":"2023-12-15","v":55,"k":"g"},{"d":"2023-12-22","v":20,"k":"r"},{"d":"2023-12-29","v":30,"k":"g"},
{"d":"2024-01-05","v":35,"k":"r"},{"d":"2024-01-12","v":60,"k":"g"},{"d":"2024-01-19","v":174,"k":"r"},{"d":"2024-01-26","v":30,"k":"g"},
{"d":"2024-02-02","v":40,"k":"r"},{"d":"2024-02-09","v":35,"k":"r"},{"d":"2024-02-16","v":25,"k":"g"},{"d":"2024-02-23","v":239,"k":"g"},
{"d":"2024-03-01","v":60,"k":"n"},{"d":"2024-03-08","v":25,"k":"g"},{"d":"2024-03-15","v":30,"k":"r"},{"d":"2024-03-22","v":20,"k":"g"},{"d":"2024-03-29","v":35,"k":"r"},
{"d":"2024-04-05","v":25,"k":"g"},{"d":"2024-04-12","v":20,"k":"r"},{"d":"2024-04-19","v":45,"k":"n"},{"d":"2024-04-26","v":30,"k":"r"},
{"d":"2024-05-03","v":70,"k":"n"},{"d":"2024-05-07","v":641,"k":"g"}
]
},
"spacing": 3,
"vconcat": [
{
 "width": 789, "height": 368,
 "layer": [
  {"data": {"name": "yrs"}, "mark": {"type": "rule", "color": "#c8c8c8", "strokeWidth": 1, "clip": true},
   "encoding": {"x": {"field": "s", "type": "temporal", "scale": {"domain": [{"year": 2019, "month": 5, "date": 6, "utc": true}, {"year": 2024, "month": 5, "date": 17, "utc": true}]}, "axis": null}}},
  {"data": {"name": "p"}, "mark": {"type": "rule", "color": "black", "strokeWidth": 1.5},
   "encoding": {
    "x": {"field": "d", "type": "temporal", "scale": {"domain": [{"year": 2019, "month": 5, "date": 6, "utc": true}, {"year": 2024, "month": 5, "date": 17, "utc": true}]}, "axis": null},
    "y": {"field": "l", "type": "quantitative", "scale": {"domain": [0, 1.99], "nice": false, "zero": false}, "axis": {"orient": "right", "values": [0.1,0.2,0.3,0.4,0.5,0.6,0.7,0.8,0.9,1.0,1.1,1.2,1.3,1.4,1.5,1.6,1.7,1.8,1.9], "tickCount": 40, "format": ".2f", "grid": true}},
    "y2": {"field": "h"}}},
  {"data": {"name": "p"}, "mark": {"type": "square", "color": "#ff0000", "size": 6, "opacity": 1, "filled": true},
   "encoding": {
    "x": {"field": "d", "type": "temporal", "scale": {"domain": [{"year": 2019, "month": 5, "date": 6, "utc": true}, {"year": 2024, "month": 5, "date": 17, "utc": true}]}, "axis": null},
    "y": {"field": "c", "type": "quantitative", "scale": {"domain": [0, 1.99], "nice": false, "zero": false}, "axis": {"orient": "right", "values": [0.1,0.2,0.3,0.4,0.5,0.6,0.7,0.8,0.9,1.0,1.1,1.2,1.3,1.4,1.5,1.6,1.7,1.8,1.9], "tickCount": 40, "format": ".2f", "grid": true}}}},
  {"data": {"name": "ma"}, "mark": {"type": "line", "strokeWidth": 1},
   "encoding": {
    "x": {"field": "d", "type": "temporal", "scale": {"domain": [{"year": 2019, "month": 5, "date": 6, "utc": true}, {"year": 2024, "month": 5, "date": 17, "utc": true}]}, "axis": null},
    "y": {"field": "v", "type": "quantitative", "scale": {"domain": [0, 1.99], "nice": false, "zero": false}, "axis": {"orient": "right", "values": [0.1,0.2,0.3,0.4,0.5,0.6,0.7,0.8,0.9,1.0,1.1,1.2,1.3,1.4,1.5,1.6,1.7,1.8,1.9], "tickCount": 40, "format": ".2f", "grid": true}},
    "color": {"field": "s", "type": "nominal", "scale": {"domain": ["b", "m"], "range": ["#0000ff", "#ff00ff"]}, "legend": null}}},
  {"data": {"values": [{"t": "US:MNGGF"}]}, "mark": {"type": "text", "align": "left", "baseline": "middle", "fontSize": 13, "font": "Liberation Sans", "color": "black"},
   "encoding": {
    "x": {"datum": {"year": 2019, "month": 5, "date": 24, "utc": true}, "type": "temporal"},
    "y": {"datum": 1.945, "type": "quantitative"},
    "text": {"field": "t"}}}
 ]
},
{
 "spacing": 0,
 "bounds": "flush",
 "resolve": {"scale": {"color": "independent", "y": "independent"}},
 "vconcat": [
  {
   "width": 789, "height": 107,
   "layer": [
    {"data": {"name": "yrs"}, "mark": {"type": "rule", "color": "#c8c8c8", "strokeWidth": 1, "clip": true},
     "encoding": {"x": {"field": "s", "type": "temporal", "scale": {"domain": [{"year": 2019, "month": 5, "date": 6, "utc": true}, {"year": 2024, "month": 5, "date": 17, "utc": true}]}, "axis": null}}},
    {"data": {"name": "vol"}, "mark": {"type": "bar", "width": 1.6, "clip": true},
     "encoding": {
      "x": {"field": "d", "type": "temporal", "scale": {"domain": [{"year": 2019, "month": 5, "date": 6, "utc": true}, {"year": 2024, "month": 5, "date": 17, "utc": true}]}, "axis": null},
      "y": {"field": "v", "type": "quantitative", "stack": null, "scale": {"domain": [-20, 1000], "nice": false, "zero": false}, "axis": {"orient": "right", "values": [250, 500, 750], "tickCount": 40, "labelExpr": "datum.value + ' k'", "grid": true}},
      "color": {"field": "k", "type": "nominal", "scale": {"domain": ["g", "r", "n"], "range": ["#4cb84c", "#ff0000", "#a8a8a8"]}, "legend": null}}},
    {"data": {"values": [{"t": "Volume"}]}, "mark": {"type": "text", "align": "left", "baseline": "middle", "fontSize": 13, "font": "Liberation Sans", "color": "black"},
     "encoding": {
      "x": {"datum": {"year": 2019, "month": 5, "date": 24, "utc": true}, "type": "temporal"},
      "y": {"datum": 905, "type": "quantitative"},
      "text": {"field": "t"}}}
   ]
  },
  {
   "width": 789, "height": 32,
   "layer": [
    {"data": {"name": "yrs"}, "mark": {"type": "rule", "color": "black", "strokeWidth": 1.5, "clip": true},
     "encoding": {"x": {"field": "s", "type": "temporal", "scale": {"domain": [{"year": 2019, "month": 5, "date": 6, "utc": true}, {"year": 2024, "month": 5, "date": 17, "utc": true}]}, "axis": null}}},
    {"data": {"values": [{"t": "divider"}]}, "mark": {"type": "rule", "color": "black", "strokeWidth": 3},
     "encoding": {"y": {"datum": 0.95, "type": "quantitative", "scale": {"domain": [0, 2], "nice": false}, "axis": null}}},
    {"data": {"name": "yrs"}, "mark": {"type": "text", "align": "center", "baseline": "middle", "fontSize": 13, "font": "Liberation Sans", "color": "black"},
     "encoding": {
      "x": {"field": "m", "type": "temporal"},
      "y": {"datum": 0.45, "type": "quantitative", "axis": null},
      "text": {"field": "y"}}}
   ]
  }
 ]
}
]
}
